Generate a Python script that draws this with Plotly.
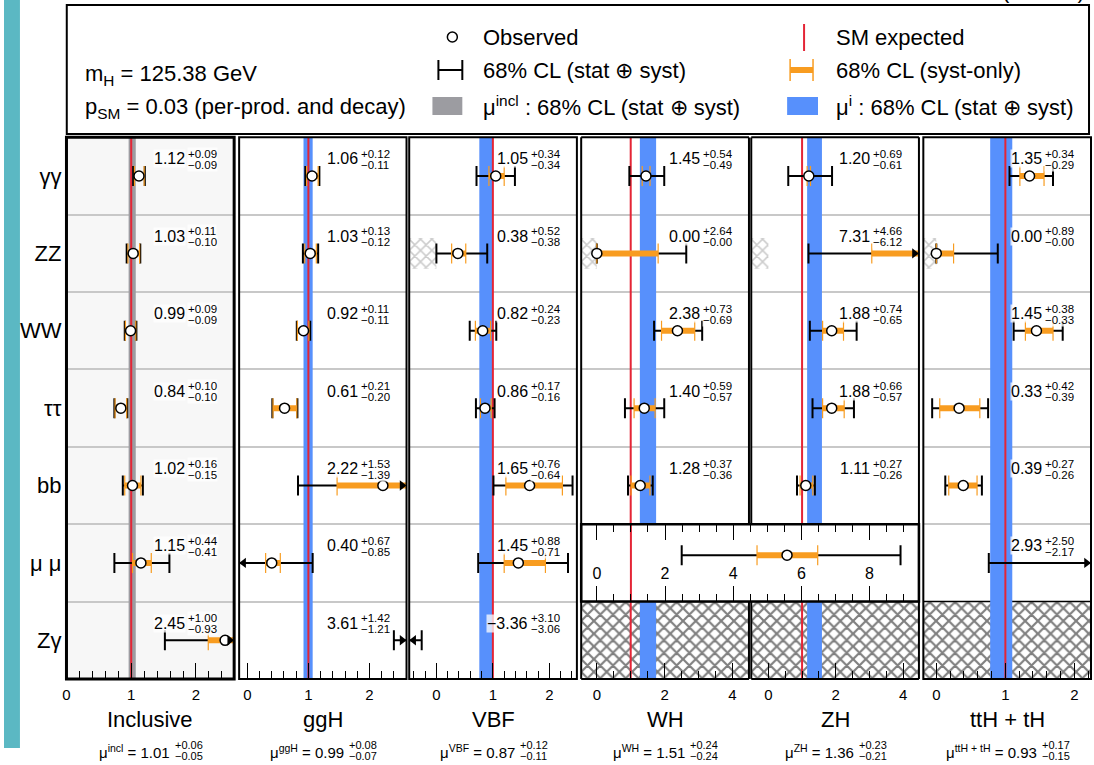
import plotly.graph_objects as go

# ---------------- data ----------------
rows = ["γγ", "ZZ", "WW", "ττ", "bb", "μ μ", "Zγ"]
columns = ["Inclusive", "ggH", "VBF", "WH", "ZH", "ttH + tH"]
mu_keys = ["incl", "ggH", "VBF", "WH", "ZH", "ttH + tH"]

incl_mu = [1.12, 1.03, 0.99, 0.84, 1.02, 1.15, 2.45]
incl_up = [0.09, 0.11, 0.09, 0.10, 0.16, 0.44, 1.00]
incl_dn = [0.09, 0.10, 0.09, 0.10, 0.15, 0.41, 0.93]
incl_syst_up = [0.08, 0.10, 0.08, 0.09, 0.13, 0.16, 0.60]
incl_syst_dn = [0.07, 0.08, 0.08, 0.09, 0.12, 0.13, 0.26]

ggH_mu = [1.06, 1.03, 0.92, 0.61, 2.22, 0.40, 3.61]
ggH_up = [0.12, 0.13, 0.11, 0.21, 1.53, 0.67, 1.42]
ggH_dn = [0.11, 0.12, 0.11, 0.20, 1.39, 0.85, 1.21]
ggH_syst_up = [0.10, 0.10, 0.09, 0.20, 0.90, 0.14, 0.60]
ggH_syst_dn = [0.09, 0.09, 0.10, 0.19, 0.75, 0.10, 0.50]

VBF_mu = [1.05, 0.38, 0.82, 0.86, 1.65, 1.45, -3.36]
VBF_up = [0.34, 0.52, 0.24, 0.17, 0.76, 0.88, 3.10]
VBF_dn = [0.34, 0.38, 0.23, 0.16, 0.64, 0.71, 3.06]
VBF_syst_up = [0.15, 0.14, 0.14, 0.11, 0.58, 0.48, 1.00]
VBF_syst_dn = [0.12, 0.11, 0.13, 0.08, 0.42, 0.25, 1.00]

WH_mu = [1.45, 0.00, 2.38, 1.40, 1.28, None, None]
WH_up = [0.54, 2.64, 0.73, 0.59, 0.37, None, None]
WH_dn = [0.49, 0.00, 0.69, 0.57, 0.36, None, None]
WH_syst_up = [0.12, 1.81, 0.51, 0.32, 0.29, None, None]
WH_syst_dn = [0.11, 0.00, 0.47, 0.30, 0.27, None, None]

ZH_mu = [1.20, 7.31, 1.88, 1.88, 1.11, None, None]
ZH_up = [0.69, 4.66, 0.74, 0.66, 0.27, None, None]
ZH_dn = [0.61, 6.12, 0.65, 0.57, 0.26, None, None]
ZH_syst_up = [0.05, 2.00, 0.35, 0.37, 0.21, None, None]
ZH_syst_dn = [0.05, 4.24, 0.27, 0.27, 0.17, None, None]

ttH_mu = [1.35, 0.00, 1.45, 0.33, 0.39, 2.93, None]
ttH_up = [0.34, 0.89, 0.38, 0.42, 0.27, 2.50, None]
ttH_dn = [0.29, 0.00, 0.33, 0.39, 0.26, 2.17, None]
ttH_syst_up = [0.21, 0.25, 0.24, 0.30, 0.20, 0.70, None]
ttH_syst_dn = [0.14, 0.00, 0.16, 0.28, 0.21, 0.60, None]

# combined VH -> mu mu
VH_mumu_mu = 5.58
VH_mumu_up = 3.33
VH_mumu_dn = 3.09
VH_mumu_syst_up = 0.90
VH_mumu_syst_dn = 0.88

# per-production-mode signal strengths (bands)
prod_mu = [1.01, 0.99, 0.87, 1.51, 1.36, 0.93]
prod_up = [0.06, 0.08, 0.12, 0.24, 0.23, 0.17]
prod_dn = [0.05, 0.07, 0.11, 0.24, 0.21, 0.15]

SM_value = 1.0
masked_cells = {3: [6], 4: [6], 5: [6]}        # hatched (no measurement)
zz_nonneg_columns = [2, 3, 4, 5]                # ZZ bound at mu >= 0

cells = [
    (incl_mu, incl_up, incl_dn, incl_syst_up, incl_syst_dn),
    (ggH_mu, ggH_up, ggH_dn, ggH_syst_up, ggH_syst_dn),
    (VBF_mu, VBF_up, VBF_dn, VBF_syst_up, VBF_syst_dn),
    (WH_mu, WH_up, WH_dn, WH_syst_up, WH_syst_dn),
    (ZH_mu, ZH_up, ZH_dn, ZH_syst_up, ZH_syst_dn),
    (ttH_mu, ttH_up, ttH_dn, ttH_syst_up, ttH_syst_dn),
]

# ---------------- layout constants ----------------
W, H = 1094, 765
FONT = "Liberation Sans, Arial, Helvetica, sans-serif"
BLUE = "#5790fc"
ORANGE = "#f89c20"
RED = "#e42536"
GRAY = "#9c9ca1"
GRID = "#c8c8c8"


def fx(px):
    return px / W


def fy(py):
    return 1 - py / H


panel_px = [(62.7, 231.0), (236.0, 404.0), (406.7, 575.0),
            (579.3, 747.7), (750.0, 918.3), (922.7, 1091.0)]
x_ranges = [[0.0, 2.59], [-0.134, 2.607], [-0.481, 2.487],
            [-0.462, 4.491], [-0.509, 4.47], [-0.188, 2.24]]
major_dt = [1, 1, 1, 2, 2, 1]
minor_dt = [0.2, 0.2, 0.2, 0.5, 0.5, 0.2]
comb_px = (579.3, 918.3)
comb_range = [-0.459, 9.45]

TOP, BOT = 137.3, 679.0
ROW_H = (BOT - TOP) / 7.0
axn = ["x", "x2", "x3", "x4", "x5", "x6"]


def ppu(c):
    return (panel_px[c][1] - panel_px[c][0]) / (x_ranges[c][1] - x_ranges[c][0])


fig = go.Figure()

# ---- hatched areas ----
for c, rr in masked_cells.items():
    r0, r1 = x_ranges[c]
    fig.add_trace(go.Bar(
        orientation="h", y=rr, x=[r1 - r0] * len(rr), base=[r0] * len(rr),
        width=[1.0] * len(rr), xaxis=axn[c], yaxis="y",
        marker=dict(color="white", line=dict(color="black", width=1.5),
                    pattern=dict(shape="x", fgcolor="black", bgcolor="white",
                                 size=9, solidity=0.42)),
        showlegend=False, hoverinfo="skip"))
for c in zz_nonneg_columns:
    r0 = x_ranges[c][0]
    fig.add_trace(go.Bar(
        orientation="h", y=[1], x=[0 - r0], base=[r0], width=[0.4],
        xaxis=axn[c], yaxis="y",
        marker=dict(color="white", line=dict(width=0),
                    pattern=dict(shape="x", fgcolor="#999999", bgcolor="white",
                                 size=8, solidity=0.35)),
        showlegend=False, hoverinfo="skip"))

# ---- production-mode bands ----
for c in range(6):
    lo, hi = prod_mu[c] - prod_dn[c], prod_mu[c] + prod_up[c]
    if c in (3, 4):
        xs = [lo, hi, hi, lo, lo, None, lo, hi, hi, lo, lo]
        ys = [-0.5, -0.5, 4.5, 4.5, -0.5, None, 5.5, 5.5, 6.5, 6.5, 5.5]
    else:
        xs = [lo, hi, hi, lo, lo]
        ys = [-0.5, -0.5, 6.5, 6.5, -0.5]
    fig.add_trace(go.Scatter(
        x=xs, y=ys, fill="toself", fillcolor=GRAY if c == 0 else BLUE,
        mode="lines", line=dict(width=0), xaxis=axn[c], yaxis="y",
        showlegend=False, hoverinfo="skip"))

# ---- SM lines ----
for c in range(6):
    if c in (3, 4):
        xs = [SM_value, SM_value, None, SM_value, SM_value]
        ys = [-0.5, 4.5, None, 5.5, 6.5]
    else:
        xs = [SM_value, SM_value]
        ys = [-0.5, 6.5]
    fig.add_trace(go.Scatter(x=xs, y=ys, mode="lines",
                             line=dict(color=RED, width=2),
                             xaxis=axn[c], yaxis="y", showlegend=False,
                             hoverinfo="skip"))
fig.add_trace(go.Scatter(x=[SM_value, SM_value], y=[4.5, 5.5], mode="lines",
                         line=dict(color=RED, width=2), xaxis="x7", yaxis="y2",
                         showlegend=False, hoverinfo="skip"))


def add_measurements(xv, yv, up, dn, sup, sdn, xa, ya):
    invis = dict(size=1, color="rgba(0,0,0,0)")
    fig.add_trace(go.Scatter(
        x=xv, y=yv, mode="markers", marker=invis, xaxis=xa, yaxis=ya,
        error_x=dict(type="data", symmetric=False, array=up, arrayminus=dn,
                     color="black", thickness=2, width=10),
        showlegend=False, hoverinfo="skip"))
    fig.add_trace(go.Scatter(
        x=xv, y=yv, mode="markers", marker=invis, xaxis=xa, yaxis=ya,
        error_x=dict(type="data", symmetric=False, array=sup, arrayminus=sdn,
                     color=ORANGE, thickness=6, width=0),
        showlegend=False, hoverinfo="skip"))
    fig.add_trace(go.Scatter(
        x=xv, y=yv, mode="markers", marker=invis, xaxis=xa, yaxis=ya,
        error_x=dict(type="data", symmetric=False, array=sup, arrayminus=sdn,
                     color=ORANGE, thickness=1.2, width=10),
        showlegend=False, hoverinfo="skip"))
    fig.add_trace(go.Scatter(
        x=xv, y=yv, mode="markers", xaxis=xa, yaxis=ya,
        marker=dict(size=10, color="white", line=dict(color="black", width=1.5)),
        showlegend=False, hoverinfo="skip"))


for c in range(6):
    mu, up, dn, sup, sdn = cells[c]
    idx = [r for r in range(7) if mu[r] is not None]
    add_measurements([mu[r] for r in idx], idx, [up[r] for r in idx],
                     [dn[r] for r in idx], [sup[r] for r in idx],
                     [sdn[r] for r in idx], axn[c], "y")
    # arrows for bars leaving the panel
    r0, r1 = x_ranges[c]
    ax_, ay_, sy_ = [], [], []
    for r in idx:
        if mu[r] + up[r] > r1:
            ax_.append(r1 - 4.5 / ppu(c)); ay_.append(r); sy_.append("triangle-right")
        if mu[r] - dn[r] < r0:
            ax_.append(r0 + 4.5 / ppu(c)); ay_.append(r); sy_.append("triangle-left")
    if ax_:
        fig.add_trace(go.Scatter(x=ax_, y=ay_, mode="markers", cliponaxis=False,
                                 marker=dict(symbol=sy_, size=9, color="black"),
                                 xaxis=axn[c], yaxis="y", showlegend=False,
                                 hoverinfo="skip"))

add_measurements([VH_mumu_mu], [4.9], [VH_mumu_up], [VH_mumu_dn],
                 [VH_mumu_syst_up], [VH_mumu_syst_dn], "x7", "y2")

# ---------------- axes ----------------
layout_axes = {}
for c in range(6):
    key = "xaxis" if c == 0 else f"xaxis{c + 1}"
    layout_axes[key] = dict(
        domain=[fx(panel_px[c][0]), fx(panel_px[c][1])], range=x_ranges[c],
        anchor="y", showgrid=False, zeroline=False, showline=False,
        ticks="inside", ticklen=16, tickwidth=1.3, tickcolor="black",
        tickfont=dict(size=15, color="black"), ticklabelstandoff=5,
        tickmode="linear", tick0=0, dtick=major_dt[c],
        minor=dict(ticks="inside", ticklen=8, tickwidth=1.3, tickcolor="black",
                   tick0=0, dtick=minor_dt[c], showgrid=False),
        fixedrange=True)
layout_axes["xaxis7"] = dict(
    domain=[fx(comb_px[0]), fx(comb_px[1])], range=comb_range, anchor="y2",
    showgrid=False, zeroline=False, showline=False, mirror="ticks",
    ticks="inside", ticklen=16, tickwidth=1.3, tickcolor="black",
    ticklabelposition="inside", ticklabelstandoff=4,
    tickfont=dict(size=16, color="black"), tickmode="linear", tick0=0, dtick=2,
    minor=dict(ticks="inside", ticklen=8, tickwidth=1.3, tickcolor="black",
               tick0=0, dtick=0.5, showgrid=False), fixedrange=True)

row5_top = TOP + 5 * ROW_H
row5_bot = TOP + 6 * ROW_H
layout_axes["yaxis"] = dict(
    domain=[fy(BOT), fy(TOP)], range=[6.5, -0.5], showgrid=False,
    zeroline=False, showline=False, tickmode="array",
    tickvals=list(range(7)), ticktext=rows, ticks="",
    tickfont=dict(size=22, color="black"), ticklabelstandoff=4,
    minor=dict(tickmode="array", tickvals=[0.5, 1.5, 2.5, 3.5, 4.5, 5.5],
               showgrid=True, gridcolor=GRID, gridwidth=2, ticks=""),
    fixedrange=True)
layout_axes["yaxis2"] = dict(
    domain=[fy(row5_bot), fy(row5_top)], range=[5.5, 4.5], anchor="x7",
    showgrid=False, zeroline=False, showline=False, showticklabels=False,
    ticks="", fixedrange=True)

# ---------------- shapes ----------------
shapes = []
# teal strip at left edge
shapes.append(dict(type="rect", xref="paper", yref="paper", x0=0, x1=fx(16),
                   y0=fy(748), y1=1, fillcolor="#5bb8c3", line=dict(width=0),
                   layer="below"))
# inclusive panel background
shapes.append(dict(type="rect", xref="x domain", yref="y domain", x0=0, x1=1,
                   y0=0, y1=1, fillcolor="#f7f7f7", line=dict(width=0),
                   layer="below"))
FR = dict(color="black", width=2)
for c in range(6):
    xr = f"{axn[c]} domain"
    if c in (3, 4):
        shapes.append(dict(type="line", xref=xr, yref="y domain", x0=0, x1=1, y0=1, y1=1, line=FR))
        shapes.append(dict(type="line", xref=xr, yref="y domain", x0=0, x1=1, y0=0, y1=0, line=FR))
        outer = 0 if c == 3 else 1
        inner = 1 if c == 3 else 0
        shapes.append(dict(type="line", xref=xr, yref="y domain", x0=outer, x1=outer, y0=0, y1=1, line=FR))
        for (ya0, ya1) in [(-0.5, 4.5), (5.5, 6.5)]:
            shapes.append(dict(type="line", xref=xr, yref="y", x0=inner, x1=inner,
                               y0=ya0, y1=ya1, line=FR))
    else:
        shapes.append(dict(type="rect", xref=xr, yref="y domain", x0=0, x1=1,
                           y0=0, y1=1, line=FR if c else dict(color="black", width=3)))
shapes.append(dict(type="rect", xref="x7 domain", yref="y2 domain", x0=0, x1=1,
                   y0=0, y1=1, line=dict(color="black", width=2.5)))

# legend box and glyphs
shapes.append(dict(type="rect", xref="paper", yref="paper", x0=fx(63), x1=fx(1089),
                   y0=fy(134), y1=fy(5), line=dict(color="black", width=2)))
shapes.append(dict(type="circle", xref="paper", yref="paper", x0=fx(445), x1=fx(455),
                   y0=fy(42), y1=fy(32), fillcolor="white",
                   line=dict(color="black", width=1.5)))
for seg in [((436, 70), (460, 70)), ((436, 60), (436, 80)), ((460, 60), (460, 80))]:
    shapes.append(dict(type="line", xref="paper", yref="paper",
                       x0=fx(seg[0][0]), y0=fy(seg[0][1]), x1=fx(seg[1][0]), y1=fy(seg[1][1]),
                       line=dict(color="black", width=2)))
shapes.append(dict(type="rect", xref="paper", yref="paper", x0=fx(430), x1=fx(460),
                   y0=fy(115), y1=fy(97), fillcolor=GRAY, line=dict(width=0)))
shapes.append(dict(type="line", xref="paper", yref="paper", x0=fx(803), x1=fx(803),
                   y0=fy(51), y1=fy(24), line=dict(color=RED, width=2)))
shapes.append(dict(type="line", xref="paper", yref="paper", x0=fx(789), x1=fx(812),
                   y0=fy(70), y1=fy(70), line=dict(color=ORANGE, width=6)))
for xx in (789, 812):
    shapes.append(dict(type="line", xref="paper", yref="paper", x0=fx(xx), x1=fx(xx),
                       y0=fy(81), y1=fy(59), line=dict(color=ORANGE, width=1.5)))
shapes.append(dict(type="rect", xref="paper", yref="paper", x0=fx(786), x1=fx(817),
                   y0=fy(115), y1=fy(97), fillcolor=BLUE, line=dict(width=0)))

# ---------------- annotations ----------------
ann = []


def txt(x, y, s, size, xanchor="left", yanchor="middle", **kw):
    d = dict(x=x, y=y, text=s, showarrow=False, xanchor=xanchor, yanchor=yanchor,
             font=dict(size=size, color="black", family=FONT))
    d.update(kw)
    ann.append(d)


# legend texts
LF = 22
txt(fx(79), fy(75), "m<sub>H</sub> = 125.38 GeV", LF, xref="paper", yref="paper")
txt(fx(79), fy(108), "p<sub>SM</sub> = 0.03 (per-prod. and decay)", LF, xref="paper", yref="paper")
txt(fx(479), fy(37), "Observed", LF, xref="paper", yref="paper")
txt(fx(479), fy(70), "68% CL (stat ⊕ syst)", LF, xref="paper", yref="paper")
txt(fx(479), fy(106), "μ<sup>incl</sup> : 68% CL (stat ⊕ syst)", LF, xref="paper", yref="paper")
txt(fx(833), fy(37), "SM expected", LF, xref="paper", yref="paper")
txt(fx(833), fy(70), "68% CL (syst-only)", LF, xref="paper", yref="paper")
txt(fx(833), fy(106), "μ<sup>i</sup> : 68% CL (stat ⊕ syst)", LF, xref="paper", yref="paper")
txt(fx(1087), fy(5), "(13 TeV)", 22, xanchor="right", yanchor="bottom", xref="paper", yref="paper")

# cell value labels
LBG = "rgba(255,255,255,0.75)"
for c in range(6):
    mu, up, dn, sup, sdn = cells[c]
    for r in range(7):
        if mu[r] is None:
            continue
        main = f"{mu[r]:.2f}".replace("-", "−")
        txt(0, r, main, 16, xanchor="right", xref=f"{axn[c]} domain", yref="y",
            xshift=120, yshift=17, bgcolor=LBG, borderpad=0)
        txt(0, r, f"+{up[r]:.2f}", 11.5, xref=f"{axn[c]} domain", yref="y",
            xshift=121, yshift=22, bgcolor=LBG, borderpad=0)
        txt(0, r, f"−{dn[r]:.2f}", 11.5, xref=f"{axn[c]} domain", yref="y",
            xshift=121, yshift=11, bgcolor=LBG, borderpad=0)

# panel titles and mu^i labels
CW = {".": 0.278, " ": 0.278, "=": 0.584, "+": 0.584, "−": 0.584, "μ": 0.576,
      "i": 0.222, "n": 0.556, "c": 0.5, "l": 0.222, "g": 0.556, "H": 0.722,
      "V": 0.667, "B": 0.667, "F": 0.611, "W": 0.944, "Z": 0.611, "t": 0.278}


def tw(s, fs):
    return sum(CW.get(ch, 0.556) for ch in s) * fs


MF, SF = 15, 11
for c in range(6):
    pc = (panel_px[c][0] + panel_px[c][1]) / 2
    txt(0.5, fy(719), columns[c], 22, xanchor="center", xref=f"{axn[c]} domain", yref="paper")
    val = f" = {prod_mu[c]:.2f}"
    m = tw("μ", MF) + tw(mu_keys[c], MF * 0.7) + tw(val, MF)
    s = tw(f"+{prod_up[c]:.2f}", SF)
    right = pc + (m - s) / 2
    txt(fx(right), fy(751), f"μ<sup>{mu_keys[c]}</sup>{val}", MF, xanchor="right",
        xref="paper", yref="paper")
    txt(fx(right + 1), fy(745), f"+{prod_up[c]:.2f}", SF, xref="paper", yref="paper")
    txt(fx(right + 1), fy(756), f"−{prod_dn[c]:.2f}", SF, xref="paper", yref="paper")

fig.update_layout(
    width=W, height=H, margin=dict(l=0, r=0, t=0, b=0),
    paper_bgcolor="white", plot_bgcolor="white", barmode="overlay",
    font=dict(family=FONT, color="black"), showlegend=False,
    shapes=shapes, annotations=ann, **layout_axes)

fig.write_html("out.html", config={"displayModeBar": False},
               post_script="document.body.style.margin='0px';document.body.style.overflow='hidden';")
